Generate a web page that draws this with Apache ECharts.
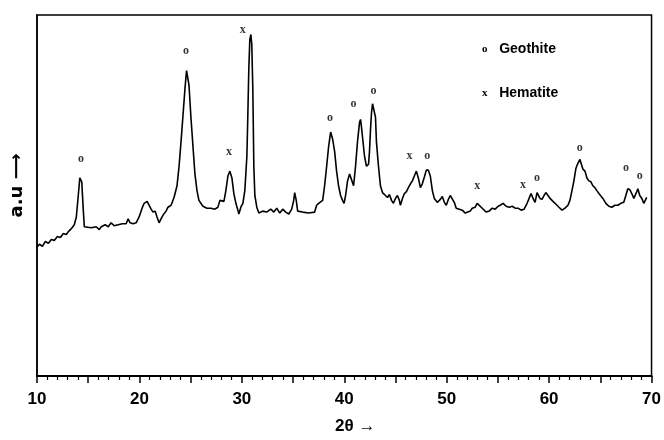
<!DOCTYPE html>
<html>
<head>
<meta charset="utf-8">
<script src="https://cdn.jsdelivr.net/npm/echarts@6/dist/echarts.min.js"></script>
<style>
html,body{margin:0;padding:0;background:#fff;}
#chart{width:664px;height:440px;}
</style>
</head>
<body>
<div id="chart"></div>
<script>
// 2θ (degrees)
var twoTheta = [
10.00,10.23,10.53,10.82,11.11,11.40,11.69,11.99,12.28,12.57,
12.86,13.06,13.35,13.64,13.84,14.03,14.18,14.27,14.37,14.52,
14.62,14.81,15.30,15.78,16.08,16.27,16.66,16.95,17.24,17.54,
17.93,18.32,18.70,18.90,19.09,19.39,19.68,19.97,20.26,20.46,
20.75,20.94,21.14,21.33,21.53,21.72,21.92,22.11,22.31,22.60,
22.79,23.09,23.38,23.67,23.87,24.06,24.26,24.45,24.60,24.69,
24.84,25.03,25.23,25.42,25.62,25.81,26.20,26.59,26.98,27.37,
27.66,27.86,28.05,28.25,28.44,28.64,28.83,29.03,29.22,29.42,
29.61,29.71,29.90,30.10,30.29,30.49,30.58,30.68,30.78,30.88,
30.97,31.07,31.17,31.27,31.46,31.66,32.04,32.43,32.82,33.12,
33.41,33.70,33.99,34.28,34.58,34.87,35.06,35.16,35.31,35.45,
35.94,36.52,37.11,37.30,37.50,37.69,37.89,38.08,38.28,38.47,
38.67,38.86,39.06,39.25,39.44,39.64,39.83,39.98,40.13,40.32,
40.52,40.71,40.91,41.10,41.29,41.49,41.59,41.68,41.78,41.98,
42.17,42.37,42.46,42.56,42.66,42.76,42.85,43.05,43.14,43.34,
43.53,43.73,44.02,44.22,44.41,44.61,44.80,45.00,45.19,45.38,
45.48,45.68,45.87,46.07,46.26,46.46,46.65,46.84,47.04,47.23,
47.43,47.62,47.82,48.01,48.21,48.40,48.60,48.79,49.08,49.38,
49.57,49.77,49.96,50.16,50.35,50.54,50.74,50.93,51.23,51.52,
51.81,52.00,52.30,52.49,52.78,52.98,53.17,53.37,53.56,53.86,
54.15,54.44,54.73,55.02,55.22,55.51,55.80,56.10,56.39,56.68,
56.97,57.26,57.56,57.85,58.04,58.24,58.43,58.63,58.82,58.92,
59.11,59.31,59.50,59.70,59.89,60.09,60.38,60.67,60.96,61.26,
61.55,61.84,62.03,62.23,62.42,62.62,62.81,63.01,63.15,63.30,
63.50,63.69,63.88,64.08,64.27,64.47,64.66,64.86,65.05,65.25,
65.54,65.83,66.12,66.42,66.71,67.00,67.29,67.49,67.68,67.88,
68.07,68.27,68.36,68.56,68.66,68.85,69.05,69.24,69.34,69.53
];
// intensity (a.u.)
var intensity = [
132,135,133,138,136,140,139,143,142,146,
145,148,151,155,163,185,203,205,199,170,
153,152,152,153,150,153,155,153,157,154,
155,156,156,161,157,156,157,163,172,177,
179,177,171,168,169,163,157,161,165,169,
173,175,183,195,215,240,268,295,313,311,
298,265,235,207,190,180,174,172,172,171,
173,180,178,179,190,205,210,203,187,177,
170,166,173,177,190,225,265,315,345,350,
340,295,215,185,173,167,169,168,171,168,
172,167,171,168,166,171,180,188,180,169,
168,167,168,175,177,177,180,195,215,235,
250,243,230,210,195,185,180,177,185,200,
207,209,195,215,240,260,263,255,245,225,
215,217,230,252,270,279,277,265,240,215,
195,188,185,183,186,180,177,182,185,180,
175,182,187,189,193,197,200,205,210,203,
193,197,204,211,211,205,190,182,178,181,
184,178,175,181,185,184,178,172,171,170,
167,165,169,172,173,177,179,173,171,168,
169,172,171,174,175,177,174,173,174,172,
172,170,171,177,182,187,182,178,188,190,
182,181,185,188,185,182,179,176,173,170,
172,175,180,190,200,213,218,222,220,212,
210,203,200,199,195,193,190,187,185,182,
177,174,173,175,175,177,178,185,192,191,
187,182,182,189,192,185,182,177,178,183
];
// peak annotations
var geothitePos = [14.3, 24.55, 38.6, 40.9, 42.85, 48.1, 58.82, 63.0, 67.5, 68.85];
var geothiteLab = [223, 333, 265, 279, 292, 226, 203, 234, 213, 205];
var hematitePos = [28.75, 30.1, 46.37, 52.98, 57.46];
var hematiteLab = [230, 355, 226, 195, 196];
var xTickLabels = [10, 20, 30, 40, 50, 60, 70];

var lineData = twoTheta.map(function (t, i) { return [t, intensity[i]]; });
var geoData = geothitePos.map(function (t, i) { return [t, geothiteLab[i]]; });
var hemData = hematitePos.map(function (t, i) { return [t, hematiteLab[i]]; });

var markFont = {fontFamily: 'Liberation Serif', fontWeight: 'bold', fontSize: 12, color: '#000'};

var chart = echarts.init(document.getElementById('chart'), null, {renderer: 'canvas'});
chart.setOption({
  animation: false,
  backgroundColor: '#fff',
  grid: {left: 36, right: 12, top: 15, bottom: 55, show: true, borderColor: '#000', borderWidth: 1.5},
  legend: {
    orient: 'vertical',
    left: 472,
    top: 37,
    itemGap: 30,
    icon: 'none',
    itemWidth: 0,
    data: ['Geothite', 'Hematite'],
    formatter: function (name) {
      return (name === 'Geothite' ? '{m|o}' : '{m|x}') + '   ' + name;
    },
    textStyle: {
      fontFamily: 'Liberation Sans', fontWeight: 'bold', fontSize: 14, color: '#000',
      rich: {m: {fontFamily: 'Liberation Serif', fontWeight: 'bold', fontSize: 11, color: '#000'}}
    }
  },
  xAxis: {
    type: 'value', min: 10, max: 70, interval: 5,
    name: '2\u03b8 \u2192', nameLocation: 'middle', nameGap: 42,
    nameTextStyle: {fontFamily: 'Liberation Sans', fontWeight: 'bold', fontSize: 17, color: '#000', padding: [0, 0, 0, 22]},
    axisLine: {onZero: false, lineStyle: {color: '#000', width: 2}},
    axisTick: {show: true, inside: false, length: 7, lineStyle: {color: '#000', width: 1.5}},
    minorTick: {show: true, splitNumber: 5, length: 4, lineStyle: {color: '#000', width: 1.2}},
    splitLine: {show: false},
    axisLabel: {
      margin: 15, color: '#000', fontFamily: 'Liberation Sans', fontWeight: 'bold', fontSize: 17,
      formatter: function (v) { return xTickLabels.indexOf(v) >= 0 ? String(v) : ''; }
    }
  },
  yAxis: {
    type: 'value', min: 0, max: 370,
    name: 'a.u \u27f6', nameLocation: 'middle', nameGap: 11, nameRotate: 90,
    nameTextStyle: {fontFamily: 'DejaVu Sans', fontWeight: 'bold', fontSize: 18, color: '#000', padding: [0, 0, 0, 20]},
    axisLine: {show: true, lineStyle: {color: '#000', width: 1.5}},
    axisTick: {show: false},
    axisLabel: {show: false},
    splitLine: {show: false}
  },
  series: [
    {
      name: 'XRD', type: 'line', data: lineData, showSymbol: false, symbol: 'none',
      lineStyle: {color: '#000', width: 1.6}, z: 3
    },
    {
      name: 'Geothite', type: 'scatter', data: geoData, symbolSize: 0,
      itemStyle: {color: '#000'},
      label: Object.assign({show: true, position: 'inside', formatter: 'o'}, markFont)
    },
    {
      name: 'Hematite', type: 'scatter', data: hemData, symbolSize: 0,
      itemStyle: {color: '#000'},
      label: Object.assign({show: true, position: 'inside', formatter: 'x'}, markFont)
    }
  ]
});
</script>
</body>
</html>
